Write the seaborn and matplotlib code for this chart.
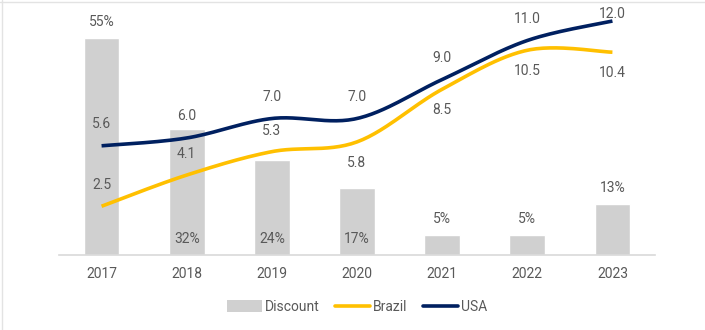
import numpy as np
import pandas as pd
import matplotlib
matplotlib.use("Agg")
import matplotlib.pyplot as plt
from matplotlib.lines import Line2D
from matplotlib.patches import Patch
import seaborn as sns

years = ["2017", "2018", "2019", "2020", "2021", "2022", "2023"]
discount = [55, 32, 24, 17, 5, 5, 13]          # %
brazil = [2.5, 4.1, 5.3, 5.8, 8.5, 10.5, 10.4]
usa = [5.6, 6.0, 7.0, 7.0, 9.0, 11.0, 12.0]

# label placement: discount labels inside the bar for these years
discount_inside = ["2018", "2019", "2020"]
# Brazil labels go below the line from 2020 on
brazil_below = ["2020", "2021", "2022", "2023"]

BAR = "#D0D0D0"
YELLOW = "#FFC000"
NAVY = "#002060"
TEXT = "#595959"

sns.set_theme(style="white")
plt.rcParams["font.family"] = ["Roboto", "DejaVu Sans"]


def smooth(y, n=30):
    """Bezier smoothing through every point (Catmull-Rom style control points)."""
    y = np.asarray(y, float)
    x = np.arange(len(y), dtype=float)
    pts = np.column_stack([x, y])
    ext = np.vstack([pts[0], pts, pts[-1]])
    out = []
    t = np.linspace(0, 1, n)[:, None]
    for i in range(len(pts) - 1):
        p0, p1, p2, p3 = ext[i], ext[i + 1], ext[i + 2], ext[i + 3]
        c1 = p1 + (p2 - p0) / 6
        c2 = p2 - (p3 - p1) / 6
        seg = ((1 - t) ** 3) * p1 + 3 * ((1 - t) ** 2) * t * c1 \
            + 3 * (1 - t) * t ** 2 * c2 + t ** 3 * p2
        out.append(seg if i == 0 else seg[1:])
    seg = np.vstack(out)
    return seg[:, 0], seg[:, 1]


fig = plt.figure(figsize=(7.05, 3.3), dpi=100)
ax = fig.add_axes([59 / 705, 1 - 255 / 330, 596 / 705, 237 / 330])

bars_df = pd.DataFrame({"year": years, "discount": discount})
sns.barplot(data=bars_df, x="year", y="discount", color=BAR, width=0.42,
            saturation=1, ax=ax)
ax.set_ylim(0, 60)
ax.set_xlim(-0.5, len(years) - 0.5)

ax2 = ax.twinx()
ax2.set_ylim(0, 237 / 19.5)
for name, vals, col in [("Brazil", brazil, YELLOW), ("USA", usa, NAVY)]:
    sx, sy = smooth(vals)
    sns.lineplot(x=sx, y=sy, color=col, lw=2.6, ax=ax2, sort=False,
                 solid_capstyle="butt")

fs = 10
# Discount labels
for i, (yr, v) in enumerate(zip(years, discount)):
    if yr in discount_inside:
        ax.annotate(f"{v}%", (i, 0), xytext=(0, 11.5), textcoords="offset points",
                    ha="center", va="center", color=TEXT, fontsize=fs)
    else:
        ax.annotate(f"{v}%", (i, v), xytext=(0, 11.5), textcoords="offset points",
                    ha="center", va="center", color=TEXT, fontsize=fs)

# Brazil labels
for i, (yr, v) in enumerate(zip(years, brazil)):
    dy = -15 if yr in brazil_below else 15
    ax2.annotate(f"{v:.1f}", (i, v), xytext=(0, dy), textcoords="offset points",
                 ha="center", va="center", color=TEXT, fontsize=fs)

# USA labels
for i, (yr, v) in enumerate(zip(years, usa)):
    dy = 5 if i == len(years) - 1 else 15.5
    ax2.annotate(f"{v:.1f}", (i, v), xytext=(0, dy), textcoords="offset points",
                 ha="center", va="center", color=TEXT, fontsize=fs)

for a in (ax, ax2):
    for s in ("top", "right", "left"):
        a.spines[s].set_visible(False)
    a.set_yticks([])
    a.set_ylabel("")
ax2.spines["bottom"].set_visible(False)
ax.spines["bottom"].set_color("#D9D9D9")
ax.spines["bottom"].set_linewidth(1.2)
ax.set_xlabel("")
ax.tick_params(axis="x", length=0, pad=9, labelsize=fs, labelcolor=TEXT)

handles = [Patch(facecolor=BAR, edgecolor="none"),
           Line2D([], [], color=YELLOW, lw=2.6),
           Line2D([], [], color=NAVY, lw=2.6)]
fig.legend(handles, ["Discount", "Brazil", "USA"], loc="center",
           bbox_to_anchor=(357 / 705, 1 - 307 / 330), ncol=3, frameon=False,
           fontsize=fs, handlelength=2.5, handleheight=0.9, handletextpad=0.25,
           columnspacing=1.1, labelcolor=TEXT)

# thin chart frame on the top and left edges
fig.add_artist(Line2D([0, 1], [1 - 1.5 / 330] * 2, transform=fig.transFigure,
                      color="#E3E3E3", lw=1))
fig.add_artist(Line2D([1.5 / 705] * 2, [0, 1], transform=fig.transFigure,
                      color="#E3E3E3", lw=1))

fig.savefig("out.png", dpi=100)
